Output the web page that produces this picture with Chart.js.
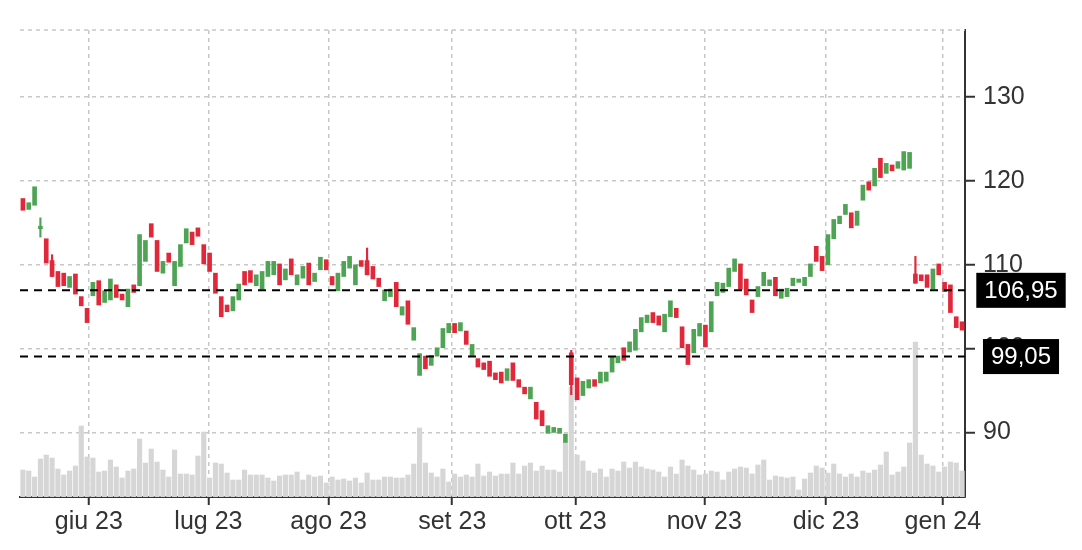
<!DOCTYPE html>
<html>
<head>
<meta charset="utf-8">
<script src="https://cdn.jsdelivr.net/npm/chart.js@4/dist/chart.umd.min.js"></script>
<style>
  html, body { margin: 0; padding: 0; background: #fff; }
  #wrap { width: 1082px; height: 550px; position: relative; }
</style>
</head>
<body>
<div id="wrap"><canvas id="priceChart"></canvas></div>
<script>
// Candle bodies (open / close), one per trading day
const opens = [117.9,116.6,117.1,114.3,113.1,110.5,109.2,109,107.3,108.9,
  106.2,104.8,106.3,108.1,105.5,105.8,107.6,106.5,105,107.6,
  107.5,110.4,114.9,112.9,109,111.4,107.5,109.8,112.6,113.9,
  114.4,112.4,111.4,109,106.2,105.2,104.5,105.8,109.2,109.3,
  107.5,107.1,108.6,108.8,110.1,108.2,110.7,107.6,108.4,110.2,
  108,109.4,110.6,108.6,106.9,108.6,109.6,107.6,110.5,110.5,
  109.8,108.4,105.7,106.2,107.9,104,105.7,101,96.8,99.1,
  98,99.1,100.1,101.9,103,102.1,102.1,99.1,98.8,98.3,
  98.5,97.1,97.2,96.2,98.3,96.3,95.4,94,93.6,92.6,
  89.9,90,89.9,88.8,99.5,96.5,94.4,95.3,96.3,95.9,
  96.1,97.2,98.3,100.1,99.6,99.8,102,103.1,104.3,103.9,
  102,103.8,104.8,102.6,100.5,99.5,101.5,102.8,102,106.3,
  106.7,107.4,109.2,110.1,108.3,105.8,106.2,107.5,107.5,108.5,
  106,106.2,107.5,107.9,107.5,108.6,112.2,111,110,113.1,
  114.9,116,116.2,114.7,117.7,119.9,119.4,122.7,120.9,121.9,
  121.5,121.3,121.5,108.9,108.8,108.8,107.1,110.1,107.9,107.6,
  103.8,103.2];
const closes = [116.5,117.4,119.3,114.6,110.2,108.6,107.4,107.5,108.6,106.5,
  105.1,103.1,107.9,105.2,106.9,108.3,106.1,105.8,107.1,106.7,
  113.6,112.9,113.3,109.2,110.4,110.3,110.4,112.4,114.3,112.4,
  113.4,110.1,109.2,106.6,103.8,104.4,106.2,107.7,107.6,107.9,
  108.8,109.2,110.4,110.4,107.6,109.5,108.8,108.8,109.8,107.6,
  109,110.9,109.4,107.6,109,110.4,111,110,109.8,108.8,
  108.3,107.4,107,107.1,105,105,102.9,102.5,99.4,97.6,
  99.2,100.1,102.4,103,101.9,103.1,100.5,100.5,97.8,97.5,
  96.7,96.3,95.9,97.6,96.2,95.4,94.6,95.4,91.6,90.8,
  90.8,90.6,90.5,89.8,95.7,93.9,96.1,96.3,95.5,97.2,
  97.2,99,99.1,98.6,100.8,102.3,103.7,104,103.1,102.8,
  104.1,105.7,103.7,100.1,98.1,102.3,103,100.2,105.6,107.9,
  107.8,109.6,110.7,107.1,106.4,104.3,107.4,109.1,108.2,106.3,
  107.1,107.2,108.4,108.3,108.5,110.1,110.4,109.3,113.6,115.4,
  115.8,117.2,114.4,116.4,119.5,118.9,121.5,120.4,122.1,121.2,
  122.3,123.5,123.4,107.8,108.1,107.3,109.5,108.8,106.8,104.3,
  102.5,102.2];
// Wicks that reach past the body: [day index, high, low]
const wicks = [[3,115.6,113.3],[5,111.2,108.6],[59,112,108.8],[94,99.8,94.5],[153,111,107.8]];
// Volume (relative units)
const volumes = [27,26,20,38,42,39,28,22,26,31,71,40,39,25,26,37,30,19,26,28,
  58,34,48,35,27,20,47,23,23,22,41,65,19,34,33,24,17,17,27,22,
  22,22,19,16,21,22,22,25,17,22,20,21,14,20,17,18,16,19,14,24,
  17,17,20,20,19,19,22,33,69,34,24,20,28,15,23,20,22,20,33,21,
  25,
  21,23,23,34,23,31,34,26,31,27,27,25,54,110,42,36,26,24,28,20,
  28,26,35,29,35,30,28,27,25,20,30,23,37,31,27,22,23,26,25,17,
  25,28,30,29,23,32,37,17,21,20,19,20,7,18,24,31,29,24,33,23,
  20,23,20,26,24,27,32,45,22,25,30,54,155,42,33,31,25,30,35,34,
  26];
// Month ticks (position in trading days) and labels
const monthTicks = [11.3, 31.8, 52.4, 73.6, 94.7, 116.8, 137.7, 157.7];
const monthLabels = ['giu 23', 'lug 23', 'ago 23', 'set 23', 'ott 23', 'nov 23', 'dic 23', 'gen 24'];
// Reference levels
const levels = [106.95, 99.05];

const RED = '#e0283a', GREEN = '#4ea454', FONT = '"Liberation Sans", Arial, sans-serif';

const bodies = opens.map((o, i) => ({ x: i, y: [o, closes[i]] }));
const bodyColors = opens.map((o, i) => closes[i] >= o ? GREEN : RED);
const wickData = wicks.map(w => ({ x: w[0], y: [w[2], w[1]] }));
const wickColors = wicks.map(w => closes[w[0]] >= opens[w[0]] ? GREEN : RED);

const levelPlugin = {
    id: 'levels',
    afterDatasetsDraw(chart) {
        const c = chart.ctx, area = chart.chartArea, y = chart.scales.y;
        c.save();
        // top frame line
        c.strokeStyle = '#c8c8c8'; c.lineWidth = 1.5; c.setLineDash([4, 4]);
        c.beginPath(); c.moveTo(area.left, area.top); c.lineTo(area.right, area.top); c.stroke();
        c.font = '24px ' + FONT;
        levels.forEach(v => {
            const py = y.getPixelForValue(v);
            c.strokeStyle = '#000'; c.lineWidth = 2; c.setLineDash([8, 6]);
            c.beginPath(); c.moveTo(area.left, py); c.lineTo(area.right, py); c.stroke();
            const txt = v.toFixed(2).replace('.', ',');
            const w = c.measureText(txt).width + 16;
            const cx = 1021;
            c.fillStyle = '#000';
            c.fillRect(cx - w / 2, py - 17.5, w, 35);
            c.fillStyle = '#fff'; c.textAlign = 'center'; c.textBaseline = 'middle';
            c.fillText(txt, cx, py + 1);
        });
        c.restore();
    }
};

new Chart(document.getElementById('priceChart'), {
    type: 'bar',
    data: {
        datasets: [
            { data: bodies, backgroundColor: bodyColors, barThickness: 4, minBarLength: 1.5, order: 1, yAxisID: 'y' },
            { data: wickData, backgroundColor: wickColors, barThickness: 1.5, order: 2, yAxisID: 'y' },
            { data: volumes.map((v, i) => ({ x: i, y: v })), backgroundColor: '#d6d6d6', barThickness: 4.5, order: 3, yAxisID: 'vol' }
        ]
    },
    plugins: [levelPlugin],
    options: {
        responsive: true,
        maintainAspectRatio: false,
        animation: false,
        datasets: { bar: { grouped: false } },
        layout: { padding: { top: 30, left: 20, right: 0, bottom: 0 } },
        plugins: { legend: { display: false }, tooltip: { enabled: false } },
        scales: {
            x: {
                type: 'linear', min: -0.5, max: 161.5, offset: false,
                afterBuildTicks: s => { s.ticks = monthTicks.map(v => ({ value: v })); },
                afterFit: s => { s.height = 53; },
                ticks: {
                    callback: v => monthLabels[monthTicks.indexOf(v)],
                    color: '#333', font: { size: 25, family: FONT }, padding: 2, maxRotation: 0, autoSkip: false
                },
                grid: { offset: false, color: '#c8c8c8', lineWidth: 1.5, tickLength: 8, tickColor: '#333', tickWidth: 2 },
                border: { color: '#333', width: 2, dash: [4, 4] }
            },
            y: {
                position: 'right', min: 82.3, max: 138,
                afterBuildTicks: s => { s.ticks = [90, 100, 110, 120, 130].map(v => ({ value: v })); },
                afterFit: s => { s.width = 117; },
                ticks: { color: '#333', font: { size: 25, family: FONT }, padding: 8 },
                grid: { color: '#c8c8c8', lineWidth: 1.5, tickLength: 10, tickColor: '#333', tickWidth: 2 },
                border: { color: '#333', width: 2, dash: [4, 4] }
            },
            vol: { display: false, min: 0, max: 467 }
        }
    }
});
</script>
</body>
</html>
